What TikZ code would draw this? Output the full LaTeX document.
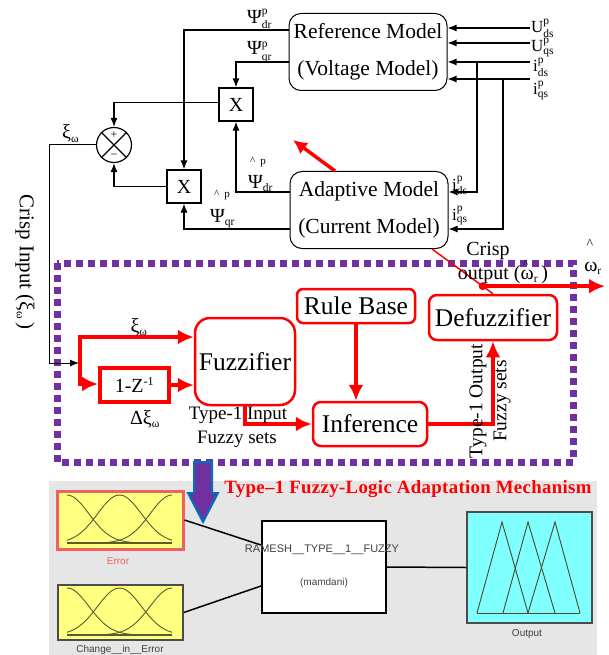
\documentclass[tikz,border=0pt]{standalone}
\usepackage{fontspec}
\usepackage{amsmath}
\setmainfont{Liberation Serif}
\newfontfamily\arialf{Liberation Sans}
\newfontfamily\titlef[LetterSpace=1.8]{Liberation Serif}
\usetikzlibrary{arrows.meta,calc}
\definecolor{fpurple}{HTML}{7030A0}
\definecolor{fblue}{HTML}{0070C0}
\definecolor{fyellow}{HTML}{FFFF80}
\definecolor{fcyan}{HTML}{80FFFF}
\definecolor{fgray}{HTML}{E6E6E6}
\definecolor{fsalmon}{HTML}{F06060}
\definecolor{folive}{HTML}{5A5A30}
\newcommand{\fsz}[1]{\fontsize{#1}{#1}\selectfont}
\newcommand{\sps}[2]{\ensuremath{^{\mbox{\fsz{11.5}#1}}_{\mbox{\fsz{11.5}#2}}}}
\newcommand{\sbs}[1]{\ensuremath{_{\mbox{\fsz{11.5}#1}}}}
\newcommand{\spx}[1]{\ensuremath{^{\mbox{\fsz{12}#1}}}}
\newcommand{\hatw}{\makebox[0pt][l]{\hspace{0.12em}\raisebox{0.62em}{\fsz{11}\textasciicircum}}ω}
\begin{document}
\begin{tikzpicture}[x=1pt,y=-1pt,
  bl/.style={line width=1.2pt},
  arr/.style={line width=1.2pt,-{Latex[length=9pt,width=7pt]}},
  model/.style={draw,line width=1pt,rounded corners=12pt,minimum width=158pt,minimum height=77pt,align=center,inner sep=0pt,font=\fontsize{21.5}{37}\selectfont},
  mulbox/.style={draw,line width=1.2pt,minimum width=34pt,minimum height=33pt,inner sep=0pt,font=\fsz{20}},
  rbox/.style={draw=red,line width=2.5pt,rounded corners=8pt,inner sep=0pt,font=\fsz{25.5}},
  rarr/.style={red,line width=4pt,-{Latex[length=16pt,width=15pt]}},
  lbl/.style={inner sep=0pt,font=\fsz{20}},
  slbl/.style={inner sep=0pt,font=\fsz{17}},
  bt/.style={inner sep=0pt,font=\arialf\fsz{10},text=black!75},
]
\useasboundingbox (0,0) rectangle (608,655);
% bottom grey panel
\fill[fgray] (49,481) rectangle (597,660);
% purple dotted frame
\draw[fpurple,line width=7pt,dash pattern=on 7pt off 5pt] (57,263) rectangle (573,462);

% ---------- top block diagram ----------
\node[model] (ref) at (368,52) {Reference Model\\(Voltage Model)};
\node[model] (adapt) at (369,210) {Adaptive Model\\(Current Model)};
\node[mulbox] (mx1) at (236,104.5) {X};
\node[mulbox] (mx2) at (184,186.5) {X};
\node[draw,circle,line width=1.2pt,minimum size=35pt,inner sep=0pt] (sum) at (114,145) {};
\draw[bl] (sum.north west) -- (sum.south east);
\draw[bl] (sum.north east) -- (sum.south west);
\node[inner sep=0pt,font=\fsz{12}] (plus) at (114,135) {+};
\node[inner sep=0pt,font=\fsz{12}] (minus) at (114,156) {\textminus};

\draw[arr] ([yshift=22pt]ref.west) -| (mx2.north);
\draw[arr] ([yshift=-10pt]ref.west) -| (mx1.north);
\draw[arr] ([yshift=18pt]adapt.west) -| (mx1.south);
\draw[arr] ([yshift=-19pt]adapt.west) -| (mx2.south);
\draw[arr] ([yshift=2pt]mx1.west) -| (sum.north);
\draw[arr] (mx2.west) -| (sum.south);

% inputs on the right
\coordinate (u1) at (530,28);
\coordinate (u2) at (530,43);
\coordinate (u3) at (530,62);
\coordinate (u4) at (530,79);
\coordinate (bds) at (477,62);
\coordinate (bqs) at (503,79);
\draw[arr] (u1) -- (u1 -| ref.east);
\draw[arr] (u2) -- (u2 -| ref.east);
\draw[arr] (u3) -- (u3 -| ref.east);
\draw[arr] (u4) -- (u4 -| ref.east);
\draw[arr] (bds) |- ([yshift=18pt]adapt.east);
\draw[arr] (bqs) |- ([yshift=-19pt]adapt.east);
\node[slbl,anchor=base west] (lu1) at (531,33) {U\sps{p}{ds}};
\node[slbl,anchor=base west] (lu2) at (531,52) {U\sps{p}{qs}};
\node[slbl,anchor=base west] (lu3) at (533,72) {i\sps{p}{ds}};
\node[slbl,anchor=base west] (lu4) at (533,95) {i\sps{p}{qs}};
\node[slbl,anchor=base west] (la1) at (452,190) {i\sps{p}{ds}};
\node[slbl,anchor=base west] (la2) at (452,220) {i\sps{p}{qs}};

% psi labels
\node[lbl,anchor=base west] (p1) at (247,24) {Ψ\sps{p}{dr}};
\node[lbl,anchor=base west] (p2) at (247,55) {Ψ\sps{p}{qr}};
\node[lbl,anchor=base west] (p3) at (248,188) {Ψ\sbs{dr}};
\node[inner sep=0pt,font=\fsz{11}] (h3) at (258,162) {\textasciicircum\hspace{5pt}p};
\node[lbl,anchor=base west] (p4) at (210,222) {Ψ\sbs{qr}};
\node[inner sep=0pt,font=\fsz{11}] (h4) at (222,195) {\textasciicircum\hspace{5pt}p};
\node[lbl,anchor=base west] (xi1) at (62,139) {ξ\sbs{ω}};

% red arrow up-left
\coordinate (rtip) at (293,140);
\draw[red,line width=3.5pt,-{Latex[length=14pt,width=14pt]}] ([xshift=-34pt]adapt.north) -- (rtip);

% crisp input line
\coordinate (cbend) at (49,363);
\coordinate (jn) at (79,363);
\draw[arr,line width=1pt] (sum.west) -| (cbend) -- (jn);
\node[inner sep=0pt,font=\fsz{21},rotate=-90] (crispin) at (25,262) {Crisp Input (ξ\sbs{ω}\,)};

% ---------- fuzzy block ----------
\node[rbox,rounded corners=15pt,minimum width=100pt,minimum height=87pt] (fuzz) at (245,361.5) {Fuzzifier};
\node[draw=red,line width=4pt,minimum width=69pt,minimum height=34pt,inner sep=0pt,font=\fsz{20}] (onez) at (134.5,385) {1-Z\spx{-1}};
\node[rbox,minimum width=118pt,minimum height=34pt,rounded corners=6pt] (rule) at (356,306) {Rule Base};
\node[rbox,minimum width=114pt,minimum height=44pt] (infer) at (370,424) {Inference};
\node[rbox,minimum width=128pt,minimum height=45pt] (defuzz) at (493,317.5) {Defuzzifier};

\coordinate (rtop) at (80,337);
\coordinate (rbot) at (80,384);
\draw[rarr] (rbot) -- (rtop) -- (rtop -| fuzz.west);
\draw[rarr] (rtop) -- (rbot) -- (rbot -| onez.west);
\draw[rarr] (onez.east) -- (onez.east -| fuzz.west);
\draw[rarr] (fuzz.south) |- (infer.west);
\draw[rarr] (rule.south) -- (rule.south |- infer.north);
\draw[rarr] (infer.east) -| (defuzz.south);

\node[lbl] (xi2) at (139,327) {ξ\sbs{ω}};
\node[lbl] (dxi) at (145,419) {Δξ\sbs{ω}};
\node[inner sep=0pt,font=\fsz{19}] (t1in) at (238,415) {Type-1 Input};
\node[inner sep=0pt,font=\fsz{19}] (t1fs) at (237,439) {Fuzzy sets};
\node[inner sep=0pt,font=\fsz{19.5},rotate=90] (t1out) at (478,401) {Type-1 Output};
\node[inner sep=0pt,font=\fsz{19.5},rotate=90] (t1ofs) at (502,401) {Fuzzy sets};

% crisp output
\coordinate (a0) at ([xshift=63pt]adapt.south);
\draw[red,line width=1.5pt] (a0) -- (defuzz.north);
\coordinate (dot) at ($(a0)!0.83!(defuzz.north)$);
\fill[red] (dot) circle (4pt);
\coordinate (wout) at (605,287);
\draw[rarr] (dot) -- (wout |- dot);
\node[inner sep=0pt,font=\fsz{20}] (crout1) at (488,251) {Crisp};
\node[inner sep=0pt,font=\fsz{20}] (crout2) at (503,272) {output (\hatw\sbs{r}\,)};
\node[inner sep=0pt,font=\fsz{14}] (wh) at (590,244) {\textasciicircum};
\node[lbl] (wr) at (593,268) {ω\sbs{r}};

% ---------- bottom: purple arrow & fuzzy toolbox ----------
\filldraw[fill=fpurple,draw=fblue,line width=2pt] (194,462) -- (212,462) -- (212,493) -- (218,493) -- (203,522) -- (188,493) -- (194,493) -- cycle;
\node[inner sep=0pt,font=\titlef\bfseries\fsz{18.8},text=red] (title) at (408,489) {Type–1 Fuzzy-Logic Adaptation Mechanism};

\node[draw=fsalmon,fill=fyellow,line width=3pt,minimum width=126pt,minimum height=58pt,inner sep=0pt] (err) at (120,520) {};
\node[draw=black!70,fill=fyellow,line width=1.5pt,minimum width=125pt,minimum height=55pt,inner sep=0pt] (chg) at (120.5,612.5) {};
\node[draw=black,fill=white,line width=2pt,minimum width=124pt,minimum height=92pt,inner sep=0pt] (mid) at (324,567) {};
\node[draw=black!70,fill=fcyan,line width=1.5pt,minimum width=125pt,minimum height=111pt,inner sep=0pt] (out) at (529.5,567.5) {};

\draw[line width=1.5pt] (err.east) -- ([yshift=22pt]mid.west);
\draw[line width=1.5pt] (chg.east) -- ([yshift=-19pt]mid.west);
\draw[line width=1.5pt] (mid.east) -- (out.west);

% membership functions
\foreach \yb/\h in {543/48,635/47}{
  \draw[folive,line width=2pt] (67,\yb) -- (172,\yb);
  \foreach \c in {67,119.5,172}{
    \draw[folive,line width=0.9pt,domain=67:172,samples=50] plot (\x,{\yb-\h*exp(-((\x-\c)^2)/968)});
  }
}
\draw[folive!80!black,line width=0.9pt] (477,613) -- (502,522) -- (528,613);
\draw[folive!80!black,line width=0.9pt] (503,613) -- (528,522) -- (555,613);
\draw[folive!80!black,line width=0.9pt] (528,613) -- (555,522) -- (580,613);
\draw[folive!80!black,line width=0.9pt] (477,613) -- (580,613);

\node[bt,text=fsalmon] (lerr) at (118,561) {Error};
\node[bt] (lchg) at (120,650) {Change\_\_in\_\_Error};
\node[bt,font=\arialf\fsz{11}] (lmid) at (322,550) {RAMESH\_\_TYPE\_\_1\_\_FUZZY};
\node[bt] (lmam) at (324,583) {(mamdani)};
\node[bt] (lout) at (527,634) {Output};
\end{tikzpicture}
\end{document}
